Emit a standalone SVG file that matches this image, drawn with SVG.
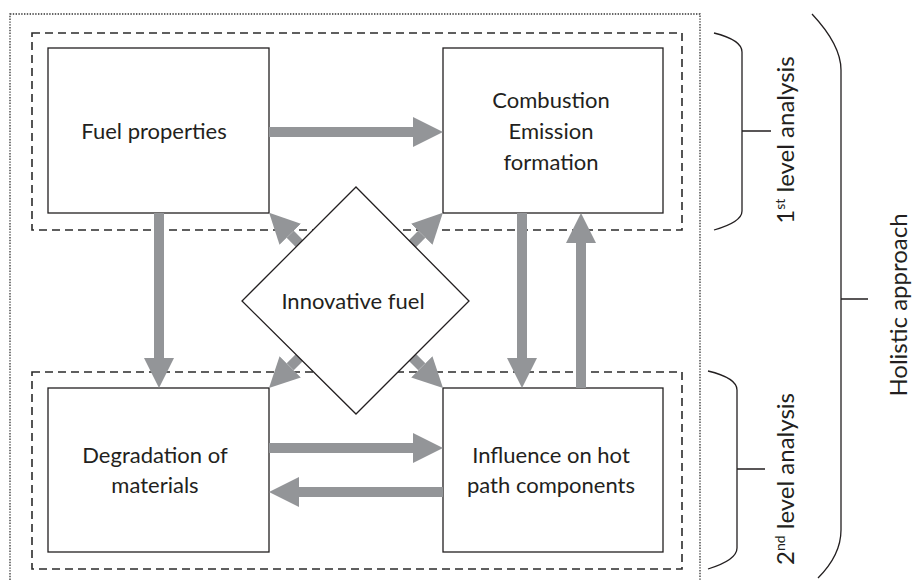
<svg xmlns="http://www.w3.org/2000/svg" width="912" height="581" viewBox="0 0 912 581">
  <style>
    .bg { fill: #ffffff; }
    .box { fill: #ffffff; stroke: #231f20; stroke-width: 1.3; }
    .zone { fill: none; stroke: #2b2b2b; stroke-width: 1.6; stroke-dasharray: 8 5; }
    .scope { fill: none; stroke: #333333; stroke-width: 1.3; stroke-dasharray: 1.4 1.4; }
    .brace { fill: none; stroke: #231f20; stroke-width: 1.3; }
    .flow { fill: none; stroke: #939598; stroke-width: 10; marker-end: url(#head); }
    .label { font-family: Lato, "Open Sans", "Liberation Sans", sans-serif; font-size: 22px; fill: #231f20; text-anchor: middle; }
    .side { font-size: 24px; }
    .sup { font-size: 14px; }
  </style>
  <defs>
    <marker id="head" viewBox="0 0 30 30" markerUnits="userSpaceOnUse" markerWidth="30" markerHeight="30" refX="0" refY="15" orient="auto">
      <path d="M0,0 L30,15 L0,30 z" fill="#939598"/>
    </marker>
  </defs>

  <rect class="bg" x="0" y="0" width="912" height="581"/>

  <!-- outer scope and the two analysis levels -->
  <rect class="scope" x="10" y="14" width="690" height="580"/>
  <rect class="zone" x="32" y="33" width="650" height="197"/>
  <rect class="zone" x="32" y="372" width="650" height="197"/>

  <g id="fuel-properties">
    <rect class="box" x="48" y="48" width="221" height="165"/>
    <text class="label" x="154" y="139">Fuel properties</text>
  </g>

  <g id="combustion">
    <rect class="box" x="443" y="48" width="220" height="165"/>
    <text class="label" x="551" y="108">Combustion</text>
    <text class="label" x="551" y="139">Emission</text>
    <text class="label" x="551" y="170">formation</text>
  </g>

  <g id="degradation">
    <rect class="box" x="48" y="388" width="221" height="164"/>
    <text class="label" x="155" y="463">Degradation of</text>
    <text class="label" x="155" y="493">materials</text>
  </g>

  <g id="hot-path">
    <rect class="box" x="443" y="388" width="220" height="164"/>
    <text class="label" x="551" y="463">Influence on hot</text>
    <text class="label" x="551" y="493">path components</text>
  </g>

  <g id="connectors">
    <path class="flow" d="M269,132 H413"/>
    <path class="flow" d="M269,448 H413"/>
    <path class="flow" d="M443,492 H299"/>
    <path class="flow" d="M159,213 V358"/>
    <path class="flow" d="M522,213 V358"/>
    <path class="flow" d="M581,388 V243"/>
    <path class="flow" d="M356,301 L290.2,234.2"/>
    <path class="flow" d="M356,301 L421.8,234.2"/>
    <path class="flow" d="M356,301 L290.2,366.8"/>
    <path class="flow" d="M356,301 L421.8,366.8"/>
  </g>

  <g id="innovative-fuel">
    <polygon class="box" points="356,187 469,301 356,414 242,301"/>
    <text class="label" x="353" y="309">Innovative fuel</text>
  </g>

  <g id="level-1">
    <path class="brace" d="M714,33 Q742,40 742,52 V211 Q742,222 714,230 M742,131 H771"/>
    <text class="label side" transform="translate(794,140) rotate(-90)">1<tspan class="sup" dy="-9">st</tspan><tspan dy="9"> level analysis</tspan></text>
  </g>

  <g id="level-2">
    <path class="brace" d="M708,371 Q737,378 737,390 V548 Q737,560 708,569 M737,469 H765"/>
    <text class="label side" transform="translate(794,479) rotate(-90)">2<tspan class="sup" dy="-9">nd</tspan><tspan dy="9"> level analysis</tspan></text>
  </g>

  <g id="holistic">
    <path class="brace" d="M812,14 Q841,45 841,70 V530 Q841,555 818,578 M841,299 H868"/>
    <text class="label side" transform="translate(907,305) rotate(-90)">Holistic approach</text>
  </g>
</svg>
